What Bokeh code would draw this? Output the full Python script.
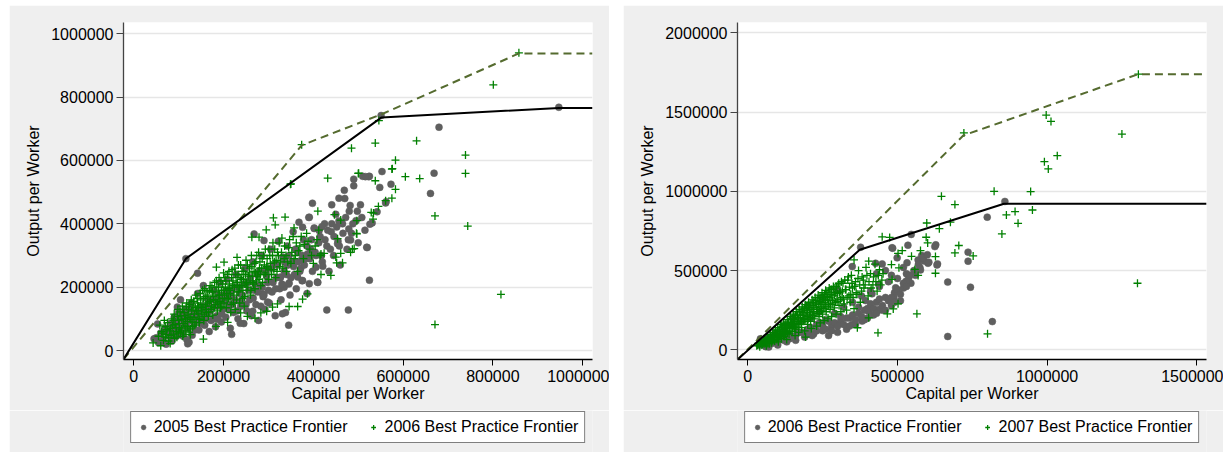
from bokeh.plotting import figure
from bokeh.models import Range1d, FixedTicker, NumeralTickFormatter, Legend, LegendItem, ColumnDataSource
from bokeh.layouts import row, column
from bokeh.embed import file_html
from bokeh.resources import INLINE

FONT = "Liberation Sans"
BG = "#efefef"
GRAY = "#5f5f5f"
GREEN = "#008000"
OLIVE = "#556b2f"

# ---------------- data (values in thousands) ----------------
# Left panel: 2005 frontier (gray dots) vs 2006 frontier (green +)
left_2005_pts = [
    (50,40),(55,25),(60,55),(65,35),(70,70),(72,20),(78,50),(82,85),(85,30),(88,65),(92,100),(95,45),(98,75),
    (100,120),(104,160),(108,55),(112,90),(115,130),(118,35),(120,70),(124,105),(128,150),(130,48),(134,85),
    (138,120),(142,180),(145,65),(148,100),(152,140),(155,205),(158,80),(162,115),(165,160),(168,60),(172,95),
    (175,135),(178,190),(182,75),(185,110),(188,155),(192,215),(195,90),(198,130),(202,175),(205,105),(208,225),
    (212,145),(215,70),(218,190),(222,120),(225,160),(228,240),(232,100),(235,200),(238,140),(242,175),(245,85),
    (248,260),(252,125),(255,215),(258,160),(262,110),(265,280),(268,190),(272,145),(275,240),(278,95),(282,205),
    (285,300),(288,170),(292,130),(295,255),(298,215),(302,150),(305,320),(308,185),(312,270),(315,110),(318,230),
    (322,345),(325,195),(328,160),(332,295),(335,250),(338,120),(342,330),(345,210),(348,175),(352,280),(355,375),
    (358,240),(362,195),(365,310),(368,405),(372,260),(375,220),(378,350),(382,290),(386,180),(390,420),(394,320),
    (398,250),(402,385),(406,300),(410,215),(415,360),(420,280),(425,400),(430,330),(435,250),(440,375),(445,300),
    (450,430),(455,345),(460,270),(465,400),(470,480),(475,320),(480,440),(485,370),(490,520),(495,410),(500,340),
    (505,460),(510,550),(515,380),(520,325),(525,550),
    (116,290),(947,768),(680,705),(669,560),(661,496),(551,742),(525,222),(478,128),(430,128),(345,80),(218,51),
    (573,525),(553,565),(561,466),(548,515),(526,399),(519,326),(542,438),(531,403),(523,549),(516,549),(490,541),
    (469,506),(457,481),(482,458),(441,460),(398,465),(483,349),(479,384),(457,409),(441,400),(419,391),(402,387),
    (268,368),(290,347),(142,244),(45,37),(60,26),(120,21),(123,26),(71,63),(53,84),(90,105),(97,137),(149,105),
    (164,126),(187,99),(237,86),(265,124),(283,140),(298,153),(331,116),(287,179),(327,232),(335,200),(346,213),
    (365,232),(376,221),(391,211),(409,216),(342,269),(372,284),(387,305),(406,263),(421,266),(454,337),(413,379),
    (376,389),(391,421),(562,470),
    (75,60),(80,45),(87,80),(93,55),(96,90),(103,70),(106,100),(110,45),(114,115),(117,80),(122,95),(126,130),
    (131,110),(136,65),(140,100),(146,125),(150,85),(156,130),(160,100),(166,145),(170,125),(176,160),(180,100),
    (186,140),(190,175),(196,115),(200,155),(206,190),(210,130),(216,170),(220,145),(226,200),(230,125),(236,180),
    (240,155),(246,210),(250,145),(256,190),(260,230),(266,165),(270,210),(276,185),(280,250),(286,200),(290,175),
    (296,235),(300,190),(306,260),(310,215),(316,195),(320,270),(326,230),(330,210),(336,280),(340,240),(346,300),
    (350,230),(356,265),(360,320),(366,280),(370,250),(376,300),(380,270),(386,330),(392,290),(396,350),(404,310),
    (412,340),(418,300),(426,350),(432,380),(438,320),(446,360),(452,390),(458,330),(466,370),(472,420),(478,350),
    (488,400),(498,440),(508,420),
]
left_2006_pts = [
    (55,45),(62,60),(66,32),(70,75),(72,50),(75,88),(78,40),(80,62),(58,80),(68,95),
    (82,70),(85,100),(88,52),(90,115),(92,82),(95,60),(98,130),(100,95),(102,72),(105,110),(108,140),(110,85),(104,58),(96,42),
    (112,120),(115,100),(118,150),(120,75),(122,130),(125,105),(128,160),(130,90),(132,140),(135,115),(138,175),(140,125),(116,62),(126,68),(136,80),
    (142,150),(145,100),(148,180),(150,135),(152,115),(155,165),(158,195),(160,140),(162,120),(165,175),(168,155),(170,205),(146,88),(156,95),(166,108),
    (172,130),(175,185),(178,160),(180,215),(182,145),(185,200),(188,175),(190,230),(192,155),(195,190),(198,210),(176,112),(186,125),(196,140),(200,245),
    (202,175),(205,220),(208,160),(210,195),(212,250),(215,180),(218,230),(220,205),(222,150),(225,260),(228,215),(230,185),(206,135),(216,120),(226,130),
    (232,240),(235,200),(238,270),(240,225),(242,165),(245,250),(248,210),(250,285),(252,190),(255,235),(258,260),(260,175),(236,150),(246,140),
    (262,300),(265,215),(268,250),(270,195),(272,280),(275,235),(278,310),(280,260),(283,205),(286,290),(290,240),(293,320),(296,265),(300,225),
    (303,300),(306,255),(310,340),(313,280),(316,230),(320,310),(325,265),(330,355),(335,290),(340,250),(345,325),(350,275),
    (355,360),(360,300),(365,250),(370,330),(378,290),(385,370),(392,320),(400,275),(408,350),(415,300),
    (858,940),(801,839),(739,617),(739,559),(671,425),(744,393),(818,177),(671,82),(630,662),(538,655),(485,639),
    (546,726),(583,601),(605,549),(637,543),(575,573),(583,509),(374,650),(349,525),(432,544),(500,559),(576,574),
    (538,536),(575,481),(561,473),(545,455),(534,434),(501,560),(461,412),(447,429),(497,410),(497,368),(454,353),
    (491,322),(483,310),(461,307),(450,295),(439,237),(417,240),(417,305),(424,307),(387,179),(376,162),(365,139),
    (346,139),(320,147),(309,137),(296,124),(283,119),(270,102),(253,108),(238,119),(209,89),(183,76),(155,36),
    (109,45),(126,50),(43,24),(60,15),(81,22),(184,263),(201,279),(230,294),(263,358),(279,358),(295,381),(311,419),
    (337,421),(357,387),(315,397),(350,526),(410,440),(529,436),(533,415),(496,370),(487,320),(465,277),(452,277),
    (65,55),(70,42),(74,66),(77,30),(83,48),(86,78),(89,95),(91,38),(94,72),(97,108),(99,55),(101,85),(103,122),
    (106,68),(107,98),(109,130),(111,52),(113,110),(114,78),(117,138),(119,92),(121,115),(123,58),(124,145),(127,98),
    (129,125),(131,75),(133,155),(134,105),(137,135),(139,88),(141,165),(143,118),(144,140),(147,98),(149,160),
    (151,125),(153,190),(154,145),(157,108),(159,170),(161,130),(163,185),(164,150),(167,122),(169,190),(171,160),
    (173,140),(174,200),(177,170),(179,135),(181,185),(183,160),(184,220),(187,150),(189,200),(191,175),(193,135),
    (194,220),(197,165),(199,190),(201,150),(203,230),(204,200),(207,180),(209,240),(211,165),(213,210),(214,190),
    (217,145),(219,255),(221,220),(223,175),(224,200),(227,240),(229,160),(231,215),(233,270),(234,185),(237,230),
    (239,205),(241,250),(243,190),(244,225),(247,170),(249,240),(251,215),(253,270),(254,200),(257,245),(259,220),
    (261,190),(263,265),(264,235),(267,210),(269,275),(271,245),(273,220),(274,300),(277,250),(279,225),(281,280),
    (282,240),(285,260),(287,215),(289,300),(291,270),(294,245),(297,290),(299,260),(301,320),(304,275),(307,240),
    (309,300),(312,255),(314,320),(317,285),(319,250),(322,300),(324,340),(327,280),(329,310),(332,260),(336,330),
    (339,300),(343,280),(347,350),(352,310),(357,290),(362,340),(367,315),(373,360),(380,335),(388,345),(396,300),
    (404,330),(412,380),
]
left_front_2005 = [(-23,-28),(116,290),(552,736),(947,766),(1022,766)]
left_front_2006 = [(-23,-28),(374,648),(552,746),(858,938),(1022,938)]

# Right panel: 2006 frontier (gray dots) vs 2007 frontier (green +)
right_2006_pts = [
    (40,30),(50,60),(60,20),(70,80),(80,40),(90,100),(100,30),(110,70),(120,120),(130,50),(140,90),(150,150),
    (160,60),(170,110),(180,180),(190,80),(200,130),(210,200),(220,100),(230,160),(240,240),(250,120),(260,190),
    (270,90),(280,150),(290,230),(300,110),(310,180),(320,270),(330,130),(340,200),(350,300),(360,160),(370,230),
    (380,340),(390,190),(400,260),(410,370),(420,220),(430,300),(440,400),(450,250),(460,330),(470,430),(480,280),
    (490,360),(500,450),(510,310),(520,390),(530,480),(545,420),(560,470),(575,520),(590,560),(300,380),(250,330),
    (200,280),(150,200),
    (377,647),(859,936),(800,837),(736,616),(736,559),(744,395),(817,178),(668,84),(668,427),(625,651),(632,535),
    (602,546),(535,660),(546,728),(482,644),(499,580),(532,549),(538,454),(529,433),(577,504),(569,567),(494,391),
    (488,328),(438,255),(404,244),(382,181),(349,160),(438,412),(427,546),(349,525),(449,542),(393,311),(415,353),
    (215,90),(70,17),(42,69),(581,595),(605,553),(634,542),(628,662),(484,641),
    (120,60),(140,70),(160,90),(180,110),(200,100),(210,140),(230,120),(240,170),(250,150),(260,130),(270,180),
    (280,120),(290,170),(300,150),(310,210),(320,160),(330,200),(340,150),(350,220),(360,190),(370,270),(380,210),
    (390,250),(400,200),(410,290),(420,260),(430,230),(440,320),(450,280),(460,250),(470,310),(480,330),(490,300),
    (500,380),(510,350),(520,420),(530,400),(540,470),(555,500),(570,540),(585,580),(600,600),(430,480),(460,500),
    (480,470),(520,520),
]
right_2007_pts = [
    (30,25),(35,40),(40,20),(45,55),(50,35),(55,70),(60,45),(62,25),(65,80),(70,60),(72,38),(75,95),(78,70),(80,50),
    (84,110),(86,85),(88,60),(92,125),(95,100),(98,75),(100,140),(102,50),(105,115),(108,90),(110,160),(112,70),
    (115,130),(118,105),(120,175),(122,85),(125,145),(128,120),(130,65),
    (132,190),(135,160),(138,100),(140,135),(142,210),(145,175),(148,115),(150,150),(152,225),(155,190),(158,90),
    (160,130),(162,240),(165,205),(168,165),(170,110),(172,255),(175,220),(178,180),(180,140),
    (182,270),(185,235),(188,195),(190,120),(192,285),(195,250),(198,210),(200,160),(203,300),(205,265),(208,225),
    (210,180),(212,135),(215,315),(218,280),(220,240),(222,195),(225,330),(228,290),(230,150),
    (232,255),(235,345),(238,210),(240,305),(242,170),(245,270),(248,360),(250,225),(252,320),(255,185),(258,285),
    (260,375),(262,240),(265,335),(268,200),(270,295),(272,390),(275,255),(278,350),(280,210),
    (283,310),(286,400),(289,265),(292,360),(295,225),(298,320),(302,410),(305,280),(308,370),(311,240),(315,330),
    (318,420),(322,290),(326,380),(330,250),(334,440),(338,340),
    (342,300),(346,470),(350,390),(355,260),(360,430),(365,350),(370,500),(376,300),(382,460),(388,390),(395,520),
    (402,340),(410,480),(418,410),(425,540),(432,370),(440,505),(448,440),
    (1305,1739),(997,1481),(1013,1441),(1250,1361),(722,1368),(1034,1225),(991,1187),(1004,1141),(945,998),
    (823,1000),(647,968),(692,916),(864,851),(893,872),(951,882),(903,798),(849,731),(1302,420),(801,101),
    (435,107),(565,227),(598,800),(677,805),(705,658),(692,611),(753,592),(596,710),(640,764),(601,674),(627,483),
    (627,588),(449,713),(474,709),(502,608),(516,626),(547,590),(577,626),(569,469),(558,507),(505,517),(480,538),
    (482,444),(502,290),(486,258),(466,227),(404,202),(366,139),(193,80),(355,567),(404,559),
    (32,30),(38,28),(42,45),(47,30),(52,50),(57,38),(58,62),(63,52),(67,40),(68,72),(73,58),(76,82),(79,45),(82,65),
    (83,95),(87,75),(90,55),(91,105),(94,88),(97,65),(99,120),(101,95),(104,80),(106,130),(109,105),(111,85),
    (113,145),(116,115),(119,95),(121,155),(124,130),(126,100),(127,165),(131,140),(133,110),(136,175),(139,150),
    (141,120),(143,190),(146,160),(149,135),(151,200),(154,170),(156,140),(159,215),(161,180),(164,150),(166,225),
    (169,195),(171,160),(174,240),(176,205),(179,170),(181,250),(184,215),(187,180),(189,260),(191,225),(194,190),
    (196,270),(199,235),(201,195),(204,280),(207,245),(209,205),(211,290),(214,255),(216,215),(219,300),(221,265),
    (224,220),(227,310),(229,270),(231,230),(234,320),(237,285),(239,240),(241,330),(244,295),(246,250),(249,340),
    (251,300),(254,260),(256,350),(259,310),(261,270),(264,360),(267,320),(269,275),(271,370),(274,330),(276,285),
    (279,380),(281,340),(284,290),(287,390),(290,345),(293,300),(296,400),(299,355),(301,305),(304,420),(307,360),
    (310,315),(313,430),(316,370),(320,320),(324,440),(328,380),(332,330),(336,460),(340,395),(344,350),(348,420),
    (352,330),(357,400),(362,360),(368,450),(374,410),(380,370),(386,440),(392,410),(398,470),(405,430),(412,390),
    (420,460),(428,430),(436,470),(444,410),(452,480),
]
right_front_2006 = [(-34,-61),(374,631),(856,921),(1533,921)]
right_front_2007 = [(-34,-61),(720,1352),(1305,1739),(1533,1739)]

left_xticks = [0, 200000, 400000, 600000, 800000, 1000000]
left_yticks = [0, 200000, 400000, 600000, 800000, 1000000]
right_xticks = [0, 500000, 1000000, 1500000]
right_yticks = [0, 500000, 1000000, 1500000, 2000000]

left_labels = ["2005 Best Practice Frontier", "2006 Best Practice Frontier"]
right_labels = ["2006 Best Practice Frontier", "2007 Best Practice Frontier"]


def src(pts):
    return ColumnDataSource(dict(x=[a * 1000 for a, b in pts], y=[b * 1000 for a, b in pts]))


def panel(gray_pts, green_pts, front_solid, front_dash, xr, yr, xticks, yticks, labels):
    p = figure(width=600, height=405, x_range=Range1d(*xr), y_range=Range1d(*yr),
               output_backend="svg", toolbar_location=None,
               min_border_left=114, min_border_right=17, min_border_top=17, min_border_bottom=51,
               background_fill_color="white", border_fill_color=BG, outline_line_color=None)
    for ax in (p.xaxis[0], p.yaxis[0]):
        ax.formatter = NumeralTickFormatter(format="0")
        ax.major_label_text_font = FONT
        ax.major_label_text_font_size = "16px"
        ax.major_label_text_color = "black"
        ax.axis_label_text_font = FONT
        ax.axis_label_text_font_size = "16px"
        ax.axis_label_text_font_style = "normal"
        ax.axis_label_text_color = "black"
        ax.minor_tick_line_color = None
        ax.major_tick_in = 0
    p.xaxis.ticker = FixedTicker(ticks=xticks)
    p.yaxis.ticker = FixedTicker(ticks=yticks)
    p.xaxis.axis_label = "Capital per Worker"
    p.yaxis.axis_label = "Output per Worker"
    p.xaxis.major_tick_out = 6
    p.yaxis.major_tick_out = 7
    p.xaxis.major_label_standoff = 4
    p.yaxis.major_label_standoff = 3
    p.xaxis.axis_label_standoff = 0
    p.yaxis.axis_label_standoff = 6
    p.xaxis.axis_line_color = "black"
    p.xaxis.axis_line_width = 1.3
    p.xaxis.major_tick_line_color = "black"
    p.yaxis.axis_line_color = "#444444"
    p.yaxis.axis_line_width = 1.3
    p.yaxis.major_tick_line_color = "#444444"
    p.xgrid.grid_line_color = None
    p.ygrid.grid_line_color = "#e6e6e6"
    p.ygrid.grid_line_width = 1.5

    gsrc = src(gray_pts)
    csrc = src(green_pts)
    p.scatter("x", "y", source=gsrc, marker="circle", size=7,
              fill_color=GRAY, line_color=GRAY, line_width=0.5)
    p.scatter("x", "y", source=csrc, marker="cross", size=8,
              line_color=GREEN, line_width=1.3)
    p.line("x", "y", source=src(front_dash), line_color=OLIVE, line_width=2, line_dash="8 5")
    p.line("x", "y", source=src(front_solid), line_color="black", line_width=2)

    # legend strip below the chart (same frame alignment as the chart); its ranges
    # lie outside the data so the series are only shown as legend swatches
    lg = figure(width=600, height=42, x_range=Range1d(-3, -2), y_range=Range1d(-3, -2),
                output_backend="svg", toolbar_location=None, x_axis_type=None, y_axis_type=None,
                min_border_left=114, min_border_right=17, min_border_top=0, min_border_bottom=0,
                background_fill_color=BG, border_fill_color=BG, outline_line_color=None)
    lg.xgrid.visible = False
    lg.ygrid.visible = False
    rg = lg.scatter("x", "y", source=gsrc, marker="circle", size=7,
                    fill_color=GRAY, line_color=GRAY, line_width=0.5)
    rc = lg.scatter("x", "y", source=csrc, marker="cross", size=8,
                    line_color=GREEN, line_width=1.3)
    legend = Legend(items=[LegendItem(label=labels[0], renderers=[rg]),
                           LegendItem(label=labels[1], renderers=[rc])],
                    location="top_center", orientation="horizontal",
                    label_text_font=FONT, label_text_font_size="16px", label_text_color="black",
                    glyph_width=12, glyph_height=16, label_height=16, label_standoff=5,
                    spacing=20, padding=6, margin=1,
                    border_line_color="black", border_line_width=1,
                    background_fill_color="white", background_fill_alpha=1)
    lg.add_layout(legend)
    return column(p, lg, spacing=0)


c1 = panel(left_2005_pts, left_2006_pts, left_front_2005, left_front_2006,
           (-23000, 1022000), (-28400, 1035700), left_xticks, left_yticks, left_labels)
c2 = panel(right_2006_pts, right_2007_pts, right_front_2006, right_front_2007,
           (-34400, 1532600), (-61200, 2065000), right_xticks, right_yticks, right_labels)
c1.margin = (5, 7, 5, 9)
c2.margin = (5, 0, 5, 7)

layout = row(c1, c2)
html = file_html(layout, INLINE)
html = html.replace("<body>", "<body style=\"margin:0;background:white\">")
open("out.html", "w").write(html)
